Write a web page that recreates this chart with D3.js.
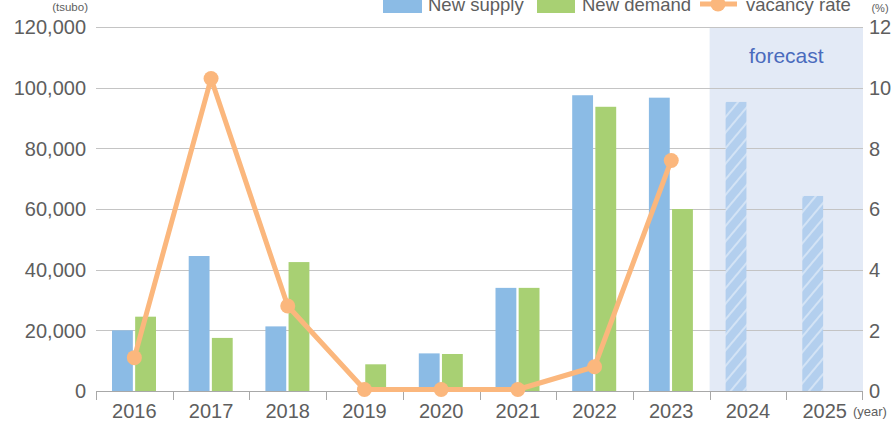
<!DOCTYPE html>
<html lang="en">
<head>
    <meta charset="UTF-8">
    <title>Supply and demand</title>
    <script src="https://d3js.org/d3.v7.min.js"></script>
</head>
<body>
<style>
    body {
        margin: 0;
        background: #fff;
    }
    svg text {
        font-family: "Liberation Sans", Arial, sans-serif;
        fill: #5e5e5e;
    }
</style>
<script>
    var years = ["2016", "2017", "2018", "2019", "2020", "2021", "2022", "2023", "2024", "2025"];
    var newSupply = [20000, 44500, 21300, 0, 12400, 34000, 97500, 96700, 95300, 64300];
    var newDemand = [24500, 17500, 42500, 8800, 12200, 34000, 93700, 60000, null, null];
    var vacancyRate = [1.1, 10.3, 2.8, 0.05, 0.05, 0.05, 0.8, 7.6, null, null];
    var forecastYears = ["2024", "2025"];
    var leftTicks = [0, 20000, 40000, 60000, 80000, 100000, 120000];
    var rightTicks = [0, 2, 4, 6, 8, 10, 12];

    var W = 895, H = 425;
    var plot = {left: 96, right: 863, top: 27, bottom: 391};

    var svg = d3.select("body").append("svg")
        .attr("width", W)
        .attr("height", H);

    var x = d3.scaleBand().domain(years).range([plot.left, plot.right]);
    var x1 = d3.scaleBand().domain(["supply", "demand"]).range([16, 60]).paddingInner(0.1);
    var y = d3.scaleLinear().domain([0, 120000]).range([plot.bottom, plot.top]);
    var yR = d3.scaleLinear().domain([0, 12]).range([plot.bottom, plot.top]);

    // hatch for forecast bars
    var defs = svg.append("defs");
    var pat = defs.append("pattern")
        .attr("id", "hatch")
        .attr("patternUnits", "userSpaceOnUse")
        .attr("width", 10)
        .attr("height", 10)
        .attr("patternTransform", "rotate(40)");
    pat.append("rect").attr("width", 10).attr("height", 10).attr("fill", "#b3cfee");
    pat.append("rect").attr("width", 2).attr("height", 10).attr("fill", "#d3e3f5");

    // forecast background
    svg.append("rect")
        .attr("x", x(forecastYears[0]))
        .attr("y", plot.top)
        .attr("width", x.bandwidth() * forecastYears.length)
        .attr("height", plot.bottom - plot.top)
        .attr("fill", "#e3eaf6");

    svg.append("text")
        .attr("x", x(forecastYears[0]) + x.bandwidth())
        .attr("y", 63)
        .attr("text-anchor", "middle")
        .style("font-size", "21px")
        .style("fill", "#4a6bbd")
        .text("forecast");

    // grid lines
    svg.append("g")
        .selectAll("line")
        .data(leftTicks.slice(1))
        .enter().append("line")
        .attr("x1", plot.left)
        .attr("x2", plot.right)
        .attr("y1", function (d) { return Math.round(y(d)) + 0.5; })
        .attr("y2", function (d) { return Math.round(y(d)) + 0.5; })
        .attr("stroke", "#c4c4c4")
        .attr("stroke-width", 1);

    // left axis labels
    var fmt = d3.format(",");
    svg.append("g")
        .selectAll("text")
        .data(leftTicks)
        .enter().append("text")
        .attr("x", 86)
        .attr("y", function (d) { return y(d); })
        .attr("dy", "0.36em")
        .attr("text-anchor", "end")
        .style("font-size", "20px")
        .text(function (d) { return fmt(d); });

    // right axis labels
    svg.append("g")
        .selectAll("text")
        .data(rightTicks)
        .enter().append("text")
        .attr("x", 869)
        .attr("y", function (d) { return yR(d); })
        .attr("dy", "0.36em")
        .style("font-size", "20px")
        .text(function (d) { return d; });

    svg.append("text").attr("x", 88).attr("y", 11).attr("text-anchor", "end")
        .style("font-size", "11.5px").text("(tsubo)");
    svg.append("text").attr("x", 880).attr("y", 12).attr("text-anchor", "middle")
        .style("font-size", "11px").text("(%)");

    // supply bars
    svg.append("g")
        .selectAll("rect")
        .data(years)
        .enter().append("rect")
        .attr("x", function (d) { return x(d) + x1("supply"); })
        .attr("width", x1.bandwidth())
        .attr("y", function (d, i) { return y(newSupply[i]); })
        .attr("height", function (d, i) { return plot.bottom - y(newSupply[i]); })
        .attr("fill", function (d) {
            return forecastYears.indexOf(d) >= 0 ? "url(#hatch)" : "#8bbbe5";
        });

    // demand bars
    svg.append("g")
        .selectAll("rect")
        .data(years.filter(function (d, i) { return newDemand[i] != null; }))
        .enter().append("rect")
        .attr("x", function (d) { return x(d) + x1("demand"); })
        .attr("width", x1.bandwidth())
        .attr("y", function (d) { return y(newDemand[years.indexOf(d)]); })
        .attr("height", function (d) { return plot.bottom - y(newDemand[years.indexOf(d)]); })
        .attr("fill", "#a8d073");

    // x axis
    svg.append("line")
        .attr("x1", plot.left).attr("x2", plot.right)
        .attr("y1", plot.bottom + 0.5).attr("y2", plot.bottom + 0.5)
        .attr("stroke", "#a8a8a8");
    svg.append("g")
        .selectAll("line")
        .data(years.concat(["end"]))
        .enter().append("line")
        .attr("x1", function (d) { return d == "end" ? plot.right - 0.5 : Math.round(x(d)) + 0.5; })
        .attr("x2", function (d) { return d == "end" ? plot.right - 0.5 : Math.round(x(d)) + 0.5; })
        .attr("y1", plot.bottom)
        .attr("y2", plot.bottom + 9)
        .attr("stroke", "#a8a8a8");
    svg.append("g")
        .selectAll("text")
        .data(years)
        .enter().append("text")
        .attr("x", function (d) { return x(d) + x.bandwidth() / 2; })
        .attr("y", 418)
        .attr("text-anchor", "middle")
        .style("font-size", "20px")
        .text(function (d) { return d; });
    svg.append("text").attr("x", 853).attr("y", 416)
        .style("font-size", "13px").text("(year)");

    // vacancy line
    var pts = years.map(function (d, i) { return {year: d, v: vacancyRate[i]}; })
        .filter(function (d) { return d.v != null; });
    var line = d3.line()
        .x(function (d) { return x(d.year) + x.bandwidth() / 2; })
        .y(function (d) { return yR(d.v); });
    svg.append("path")
        .datum(pts)
        .attr("d", line)
        .attr("fill", "none")
        .attr("stroke", "#fbb77d")
        .attr("stroke-width", 5)
        .attr("stroke-linejoin", "round");
    svg.append("g")
        .selectAll("circle")
        .data(pts)
        .enter().append("circle")
        .attr("cx", function (d) { return x(d.year) + x.bandwidth() / 2; })
        .attr("cy", function (d) { return yR(d.v); })
        .attr("r", 7.5)
        .attr("fill", "#fbb77d");

    // legend (top edge is clipped, as in the original)
    var lg = svg.append("g");
    lg.append("rect").attr("x", 383).attr("y", -6).attr("width", 39).attr("height", 19).attr("fill", "#8bbbe5");
    lg.append("text").attr("x", 428).attr("y", 11).style("font-size", "18.5px").text("New supply");
    lg.append("rect").attr("x", 537).attr("y", -6).attr("width", 38).attr("height", 19).attr("fill", "#a8d073");
    lg.append("text").attr("x", 582).attr("y", 11).style("font-size", "18.5px").text("New demand");
    lg.append("line").attr("x1", 700).attr("x2", 737).attr("y1", 4).attr("y2", 4)
        .attr("stroke", "#fbb77d").attr("stroke-width", 5);
    lg.append("circle").attr("cx", 718).attr("cy", 4).attr("r", 7.5).attr("fill", "#fbb77d");
    lg.append("text").attr("x", 746).attr("y", 11).style("font-size", "18.5px").text("vacancy rate");
</script>
</body>
</html>
